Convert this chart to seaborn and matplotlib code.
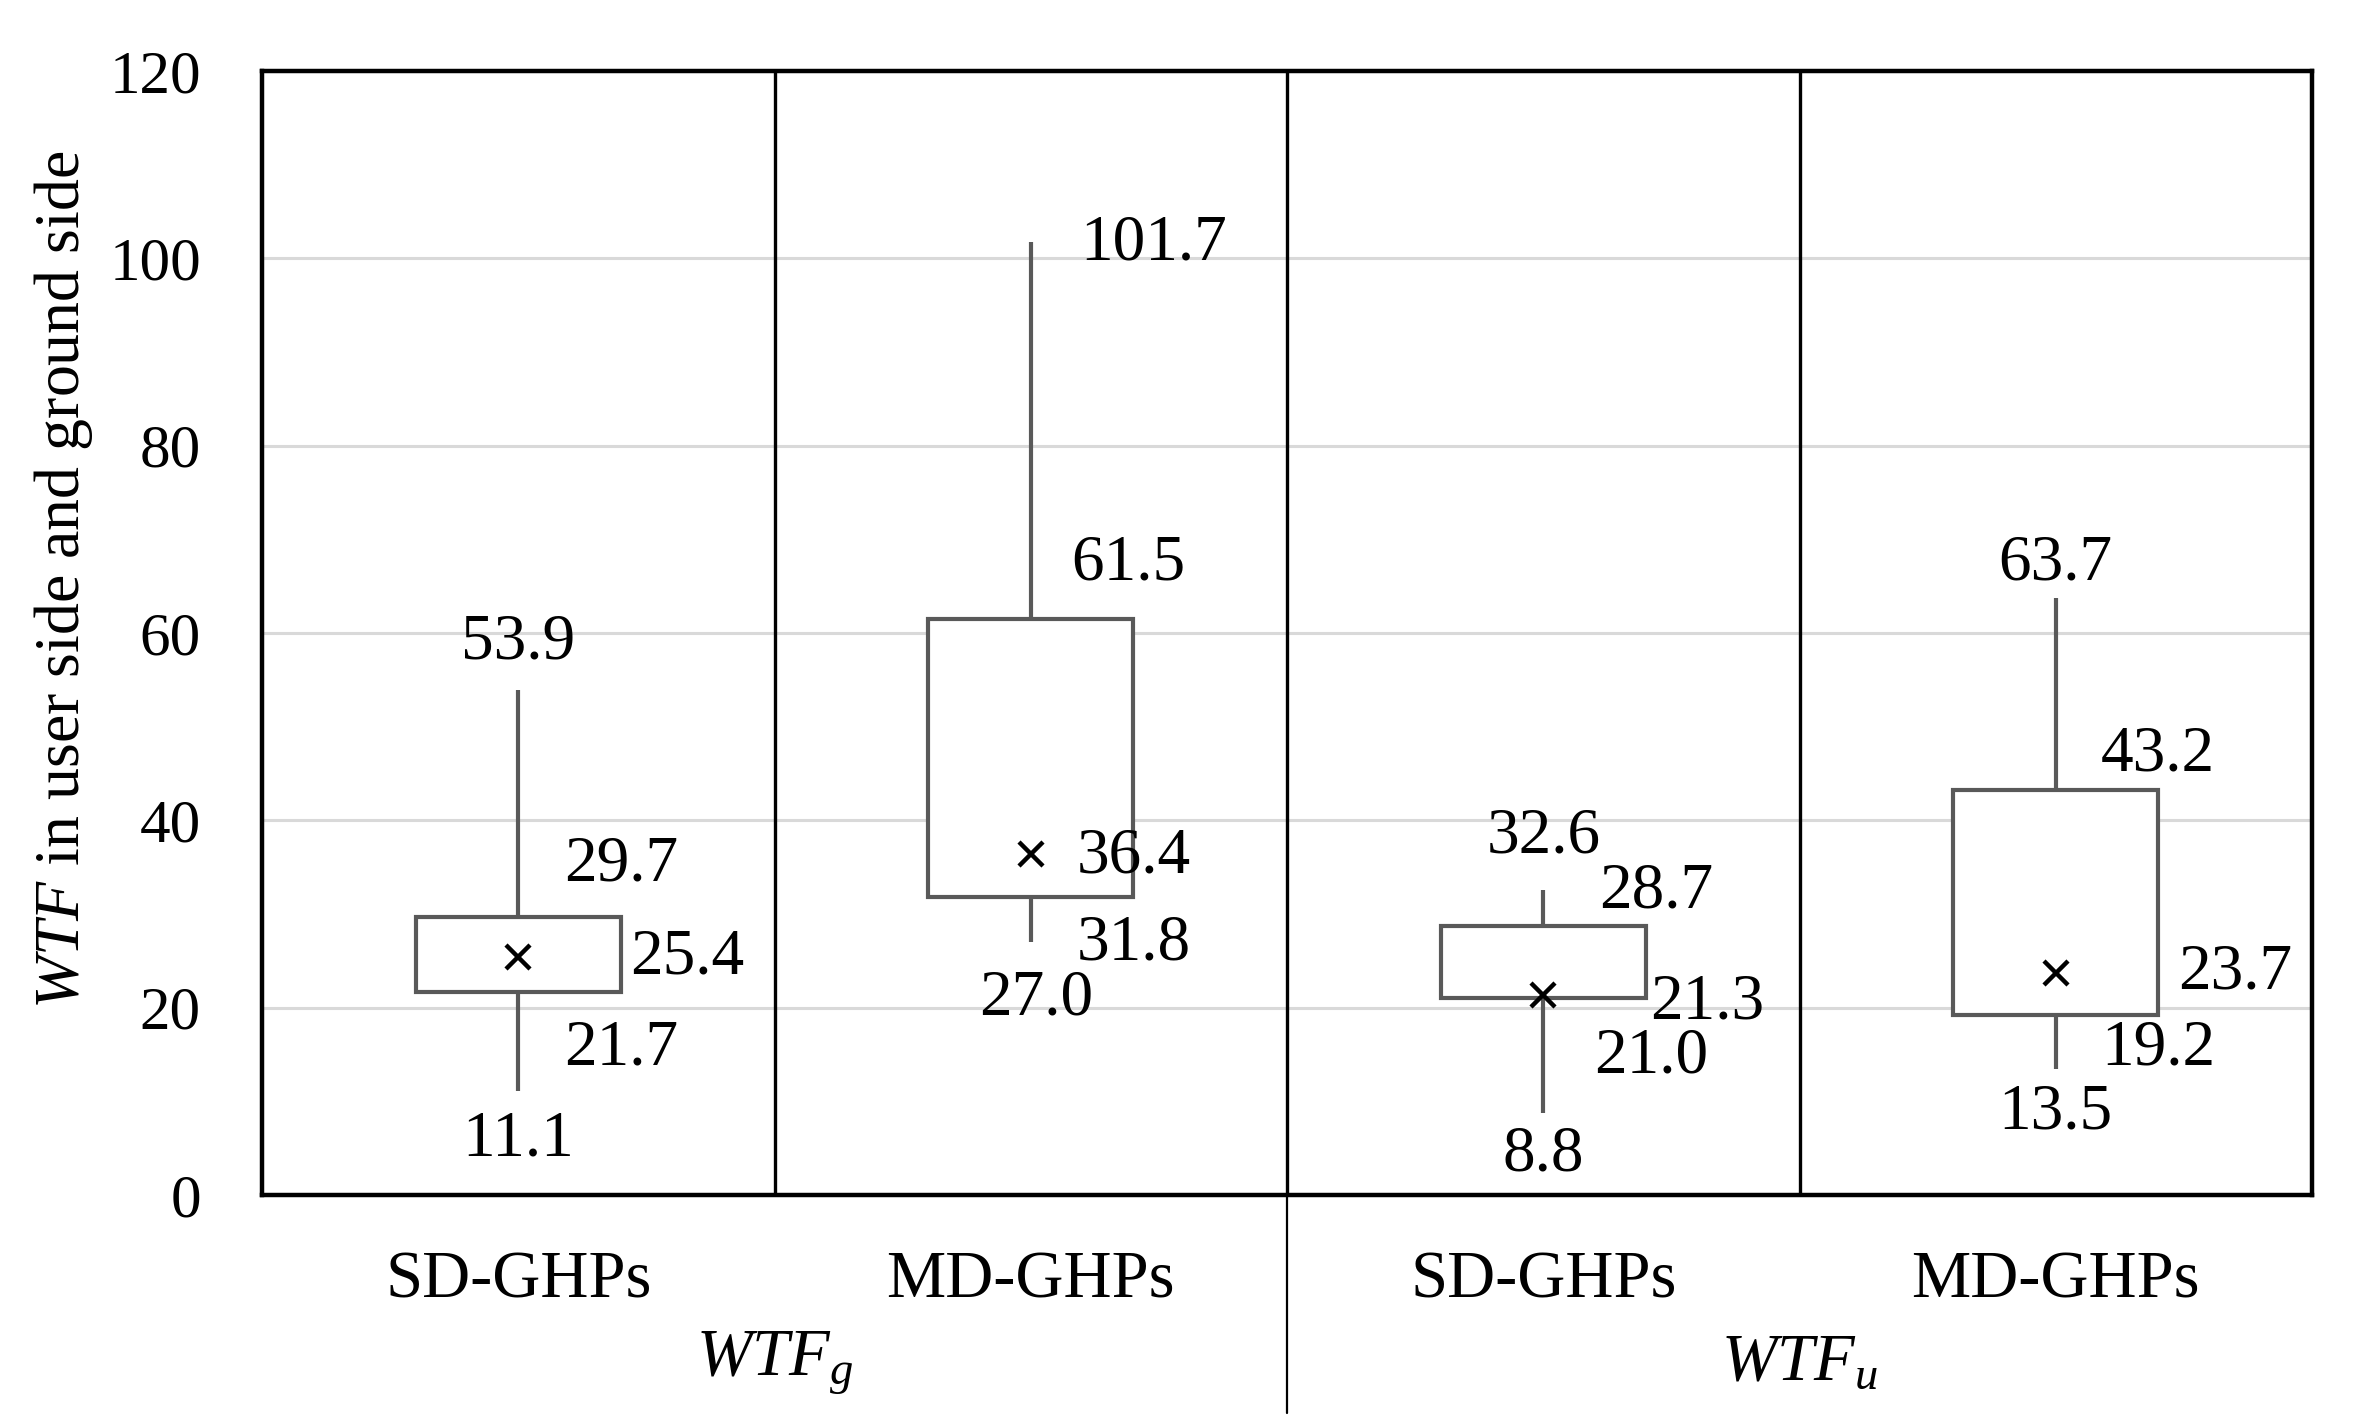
import pandas as pd
import numpy as np
import seaborn as sns
import matplotlib.pyplot as plt

# box statistics
box_ids = ["WTFg SD", "WTFg MD", "WTFu SD", "WTFu MD"]
tick_labels = ["SD-GHPs", "MD-GHPs", "SD-GHPs", "MD-GHPs"]
group_labels = [r"$\mathit{WTF}_g$", r"$\mathit{WTF}_u$"]

mins = [11.1, 27.0, 8.8, 13.5]
q1s = [21.7, 31.8, 21.0, 19.2]
means = [25.4, 36.4, 21.3, 23.7]
q3s = [29.7, 61.5, 28.7, 43.2]
maxs = [53.9, 101.7, 32.6, 63.7]

# label offsets (dx in category units, dy in data units) for min, q1, mean, q3, max
label_offsets = [
    [(0.0, -5.2), (0.20, -6.1), (0.33, -0.1), (0.20, 5.6), (0.0, 5.1)],
    [(0.01, -6.1), (0.20, -5.0), (0.20, -0.3), (0.19, 5.9), (0.24, -0.1)],
    [(0.0, -4.5), (0.21, -6.2), (0.32, -0.8), (0.22, 3.7), (0.0, 5.6)],
    [(0.0, -4.7), (0.20, -3.6), (0.35, 0.0), (0.20, 3.8), (0.0, 3.7)],
]

sns.set_style("white")
plt.rcParams["font.family"] = ["Liberation Serif", "DejaVu Serif"]
plt.rcParams["mathtext.fontset"] = "custom"
plt.rcParams["mathtext.rm"] = "Liberation Serif"
plt.rcParams["mathtext.it"] = "Liberation Serif:italic"
for key in ["text.color", "axes.labelcolor", "xtick.color", "ytick.color"]:
    plt.rcParams[key] = "black"


def build_frame():
    # five points per box: whisker ends and quartiles fall exactly on the points
    rows = []
    for i, b in enumerate(box_ids):
        for v in [mins[i], q1s[i], means[i], q3s[i], maxs[i]]:
            rows.append({"box": b, "value": v})
    return pd.DataFrame(rows)


def main():
    df = build_frame()
    fig = plt.figure(figsize=(23.57, 14.28), dpi=100)
    ax = fig.add_axes([0.1112, 0.1632, 0.8697, 0.7871])

    sns.boxplot(data=df, x="box", y="value", order=box_ids, width=0.4,
                whis=(0, 100), color="white", linecolor="#595959", linewidth=3,
                showcaps=False, medianprops={"visible": False}, ax=ax)
    sns.pointplot(x=box_ids, y=means, order=box_ids, linestyle="none",
                  markers="x", color="black", markersize=17,
                  markeredgewidth=3.2, errorbar=None, ax=ax)

    ax.set_ylim(0, 120)
    ax.set_xlim(-0.5, 3.5)
    ax.set_yticks(range(0, 121, 20))
    ax.yaxis.grid(True, color="#d9d9d9", linewidth=2.2)
    ax.set_axisbelow(True)
    ax.tick_params(axis="y", length=0, pad=44, labelsize=44)
    ax.tick_params(axis="x", length=0, pad=40, labelsize=48)
    ax.set_xticks(range(len(box_ids)))
    ax.set_xticklabels(tick_labels)
    ax.set_xlabel("")
    ax.set_ylabel(r"$\mathit{WTF}$ in user side and ground side", fontsize=46,
                  va="center")
    ax.yaxis.set_label_coords(-0.097, 0.547)

    for s in ax.spines.values():
        s.set_visible(True)
        s.set_color("black")
        s.set_linewidth(3.2)

    for x in [0.5, 1.5, 2.5]:
        ax.axvline(x, color="black", linewidth=2.4, zorder=1)
    trans = ax.get_xaxis_transform()
    ax.plot([1.5, 1.5], [0, -0.194], color="black", linewidth=1.6,
            transform=trans, clip_on=False)

    for j, g in enumerate(group_labels):
        ax.text(0.5 + 2 * j, -0.15, g, transform=trans, ha="center",
                va="center", fontsize=48)

    for i in range(len(box_ids)):
        vals = [mins[i], q1s[i], means[i], q3s[i], maxs[i]]
        for v, (dx, dy) in zip(vals, label_offsets[i]):
            ax.text(i + dx, v + dy, f"{v:.1f}", ha="center", va="center",
                    fontsize=47)

    fig.savefig("out.png", dpi=100)


if __name__ == "__main__":
    main()
